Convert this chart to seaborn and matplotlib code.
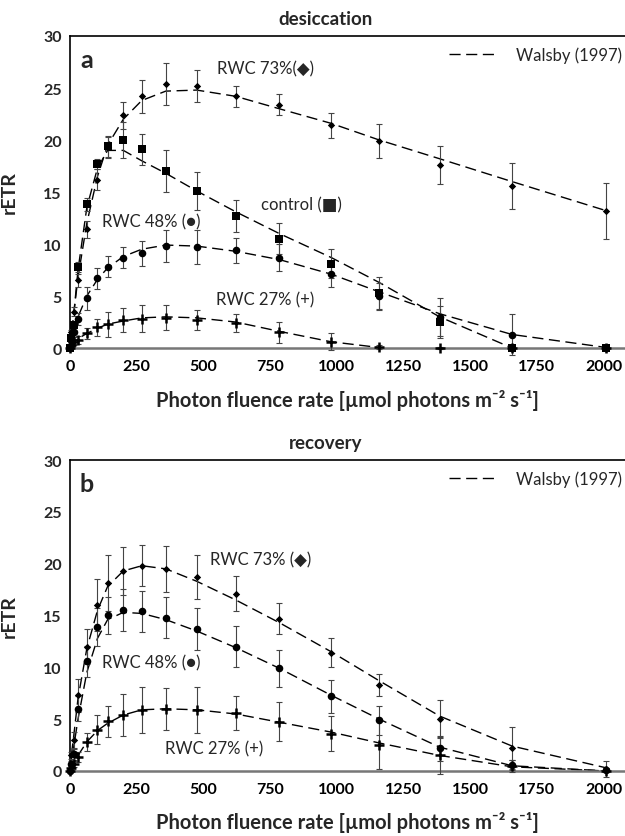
import numpy as np
import pandas as pd
import matplotlib
matplotlib.use("Agg")
import matplotlib.pyplot as plt
from matplotlib.lines import Line2D
import seaborn as sns

# light levels (µmol photons m-2 s-1)
x_pts = [0, 5, 15, 30, 63, 103, 141, 200, 269, 359, 475, 621, 785, 979, 1159, 1385, 1657, 2010]

# --- panel a: desiccation ---
a73 = [0, 1.5, 3.5, 6.5, 11.4, 16.2, 19.3, 22.4, 24.2, 25.4, 25.2, 24.2, 23.4, 21.4, 19.9, 17.6, 15.6, 13.2]
a73_err = [0, 0.2, 0.4, 0.6, 0.8, 1.0, 1.0, 1.3, 1.6, 2.0, 1.5, 1.0, 1.0, 1.2, 1.6, 1.8, 2.2, 2.7]
actrl = [0, 1.0, 2.2, 7.8, 13.8, 17.7, 19.4, 20.0, 19.1, 17.0, 15.1, 12.7, 10.5, 8.1, 5.3, 2.5, 0.0, 0.0]
actrl_err = [0, 0.2, 0.3, 0.5, 0.6, 0.5, 1.0, 1.7, 1.5, 2.0, 1.8, 1.5, 1.5, 1.4, 1.5, 1.5, 0.2, 0.1]
a48 = [0, 0.8, 1.5, 2.8, 4.8, 6.7, 7.8, 8.7, 9.1, 9.8, 9.7, 9.4, 8.7, 7.1, 5.0, 3.0, 1.3, 0.0]
a48_err = [0, 0.2, 0.4, 0.6, 1.1, 1.0, 1.0, 1.0, 1.2, 1.5, 1.6, 1.2, 1.3, 1.2, 1.3, 1.8, 2.0, 0.1]
a27 = [0, 0.3, 0.6, 0.8, 1.4, 2.0, 2.3, 2.7, 2.8, 2.9, 2.7, 2.4, 1.5, 0.6, 0.1, 0, 0, 0]
a27_err = [0, 0.2, 0.3, 0.4, 0.5, 0.8, 1.2, 1.15, 1.3, 1.2, 1.0, 0.9, 1.0, 0.8, 0.2, 0.1, 0, 0]

# Walsby (1997) fit curves
ca73 = [0, 1.2, 3.5, 6.8, 12.0, 16.5, 19.5, 22.0, 23.8, 24.7, 24.8, 24.2, 23.0, 21.6, 20.0, 18.2, 16.0, 13.2]
cactrl = [0, 1.0, 3.5, 7.5, 13.5, 17.3, 19.0, 19.0, 18.0, 16.8, 15.1, 13.1, 11.0, 8.7, 6.3, 3.0, 0.0, np.nan]
ca48 = [0, 0.6, 1.6, 3.0, 5.0, 6.6, 7.7, 8.8, 9.5, 9.9, 9.8, 9.3, 8.5, 7.1, 5.4, 3.3, 1.3, 0.05]
ca27 = [0, 0.2, 0.5, 0.9, 1.4, 1.9, 2.3, 2.6, 2.9, 3.0, 2.9, 2.5, 1.6, 0.6, 0.05, np.nan, np.nan, np.nan]

# --- panel b: recovery ---
b73 = [0, 1.5, 3.0, 7.3, 12.0, 16.0, 18.1, 19.3, 19.8, 19.5, 18.7, 17.1, 14.7, 11.4, 8.3, 5.0, 2.2, 0.2]
b73_err = [0, 0.3, 0.8, 1.6, 1.7, 2.5, 2.7, 2.3, 2.0, 2.2, 2.1, 1.7, 1.5, 1.4, 1.1, 1.8, 2.0, 0.8]
b48 = [0, 0.7, 1.6, 6.0, 10.6, 13.9, 15.0, 15.55, 15.4, 14.8, 13.7, 12.0, 9.9, 7.2, 4.9, 2.2, 0.6, 0.1]
b48_err = [0, 0.3, 0.5, 1.2, 1.5, 1.8, 1.8, 2.0, 2.0, 2.0, 2.0, 2.0, 1.8, 1.6, 1.4, 1.2, 0.5, 0.2]
b27 = [0, 0.3, 0.7, 1.35, 2.8, 4.0, 4.8, 5.4, 5.9, 6.0, 5.9, 5.6, 4.75, 3.6, 2.5, 1.5, 0.5, 0.0]
b27_err = [0, 0.2, 0.3, 0.5, 0.9, 1.4, 1.5, 2.0, 2.2, 2.0, 2.2, 1.6, 1.9, 1.7, 2.3, 1.8, 0.6, 0.1]

cb73 = [0, 1.5, 3.6, 7.0, 11.8, 15.5, 17.8, 19.3, 19.8, 19.5, 18.3, 16.5, 14.3, 11.5, 8.7, 5.3, 2.4, 0.3]
cb48 = [0, 0.8, 2.5, 5.0, 9.5, 12.8, 14.6, 15.3, 15.2, 14.6, 13.5, 11.9, 9.9, 7.3, 5.0, 2.3, 0.5, 0.0]
cb27 = [0, 0.3, 0.8, 1.5, 2.8, 3.9, 4.6, 5.4, 5.9, 6.0, 5.9, 5.5, 4.7, 3.75, 2.7, 1.5, 0.4, 0.0]

x_ticks = [0, 250, 500, 750, 1000, 1250, 1500, 1750, 2000]
y_ticks = [0, 5, 10, 15, 20, 25, 30]

sns.set_style("white")
plt.rcParams['font.family'] = ['Lato', 'DejaVu Sans']

FONT = ['Lato', 'DejaVu Sans']
DASH = (8, 4)
ANN = 12


def draw_series(ax, y, err, curve, marker, msize, mew=0.0):
    df = pd.DataFrame({"x": x_pts, "y": y, "curve": curve})
    sns.lineplot(data=df.dropna(subset=["curve"]), x="x", y="curve", ax=ax,
                 color="black", lw=1.0, sort=False,
                 linestyle=(0, DASH), zorder=2)
    ax.errorbar(x_pts, y, yerr=err, fmt="none", ecolor="#444444",
                elinewidth=0.8, capsize=2.3, capthick=0.8, zorder=3, clip_on=False)
    sns.scatterplot(data=df, x="x", y="y", ax=ax, marker=marker, s=msize,
                    color="black", edgecolor="black", linewidth=mew, zorder=4, clip_on=False)


def style_axes(ax, letter, title):
    ax.set_xlim(0, 2080)
    ax.set_ylim(0, 30)
    ax.set_xticks(x_ticks)
    ax.set_yticks(y_ticks)
    ax.tick_params(axis="both", which="both", direction="out", length=4, width=1,
                   labelsize=11.5)
    ax.tick_params(axis="x", colors="#777777", labelcolor="black", pad=4)
    ax.tick_params(axis="y", color="black", pad=2)
    for lab in ax.get_xticklabels() + ax.get_yticklabels():
        lab.set_fontweight("bold")
    ax.spines["right"].set_visible(False)
    ax.spines["top"].set_color("black")
    ax.spines["top"].set_linewidth(1.2)
    ax.spines["left"].set_color("black")
    ax.spines["left"].set_linewidth(1.2)
    ax.spines["bottom"].set_color("#777777")
    ax.spines["bottom"].set_linewidth(1.8)
    ax.set_xlabel("Photon fluence rate [µmol photons m⁻² s⁻¹]", fontsize=14.5,
                  fontweight="bold", family=FONT)
    ax.xaxis.set_label_coords(0.5, -0.13)
    ax.set_ylabel("rETR", fontsize=14, fontweight="bold", family=FONT)
    ax.yaxis.set_label_coords(-0.095, 0.5)
    ax.text(0.461, 1.055, title, transform=ax.transAxes, ha="center", va="center",
            fontsize=13.5, fontweight="bold", family=FONT)
    ax.text(0.018, 0.925, letter, transform=ax.transAxes, ha="left", va="center",
            fontsize=18, fontweight="bold", family=FONT)
    handle = Line2D([0], [0], color="black", lw=1.0, linestyle=(0, DASH))
    leg = ax.legend([handle], ["Walsby (1997)"], loc="center right",
                    bbox_to_anchor=(1.0, 0.94), frameon=False, handlelength=2.9,
                    handletextpad=1.1, borderaxespad=0.0, borderpad=0.2,
                    prop={"family": FONT, "size": ANN})
    return leg


fig = plt.figure(figsize=(6.25, 8.37), dpi=100)
ax_a = fig.add_axes([0.112, 0.583, 0.888, 0.3728])
ax_b = fig.add_axes([0.112, 0.0777, 0.888, 0.3715])

# panel a
draw_series(ax_a, a73, a73_err, ca73, "D", 14)
draw_series(ax_a, actrl, actrl_err, cactrl, "s", 30)
draw_series(ax_a, a48, a48_err, ca48, "o", 30)
draw_series(ax_a, a27, a27_err, ca27, "+", 55, mew=1.8)
style_axes(ax_a, "a", "desiccation")
ax_a.text(731, 26.9, "RWC 73%(◆)", ha="center", va="center", fontsize=ANN, family=FONT)
ax_a.text(868, 13.85, "control (■)", ha="center", va="center", fontsize=ANN, family=FONT)
ax_a.text(306, 12.15, "RWC 48% (●)", ha="center", va="center", fontsize=ANN, family=FONT)
ax_a.text(731, 4.7, "RWC 27% (+)", ha="center", va="center", fontsize=ANN, family=FONT)

# panel b
draw_series(ax_b, b73, b73_err, cb73, "D", 14)
draw_series(ax_b, b48, b48_err, cb48, "o", 30)
draw_series(ax_b, b27, b27_err, cb27, "+", 55, mew=1.8)
style_axes(ax_b, "b", "recovery")
ax_b.text(715, 20.4, "RWC 73% (◆)", ha="center", va="center", fontsize=ANN, family=FONT)
ax_b.text(304, 10.5, "RWC 48% (●)", ha="center", va="center", fontsize=ANN, family=FONT)
ax_b.text(541, 2.2, "RWC 27% (+)", ha="center", va="center", fontsize=ANN, family=FONT)

fig.savefig("out.png", dpi=100)
